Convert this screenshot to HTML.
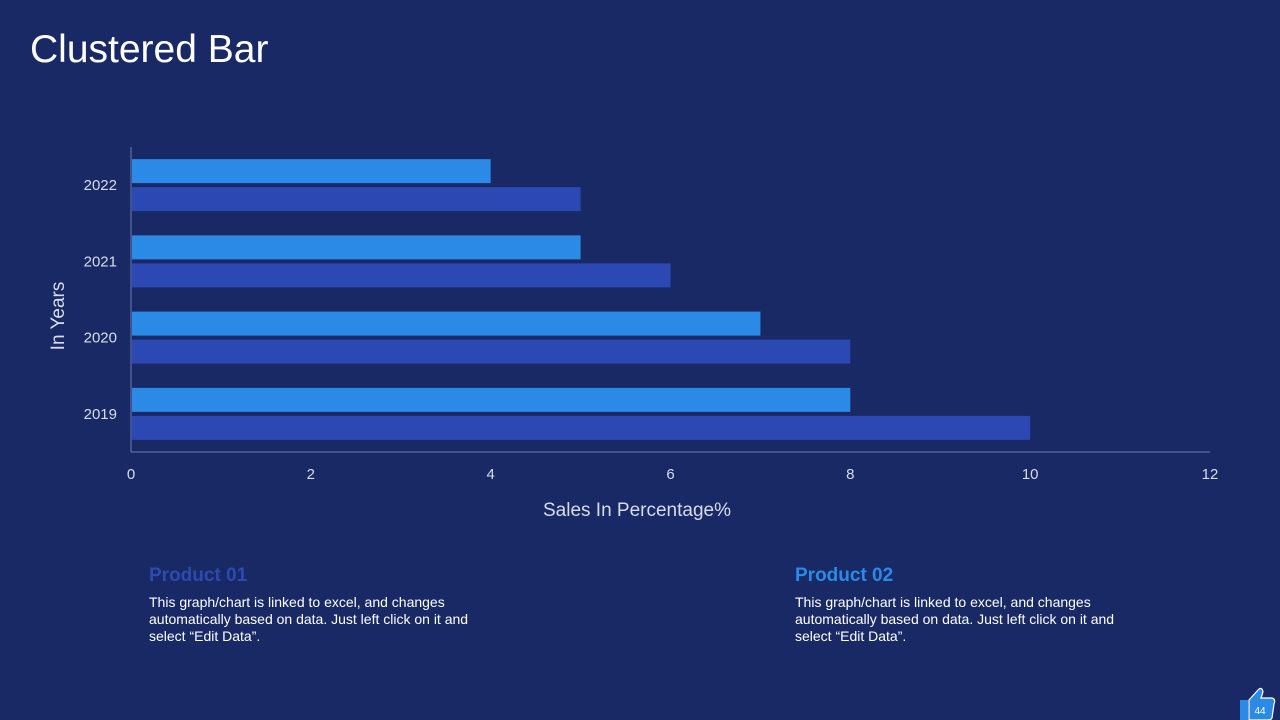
<!DOCTYPE html>
<html><head><meta charset="utf-8"><style>
body{margin:0;width:1280px;height:720px;background:#182966;font-family:"Liberation Sans",sans-serif;overflow:hidden;position:relative;color:#fff}
.title{position:absolute;left:30px;top:28px;font-size:39px;color:#fff}
.ph{position:absolute;font-size:19px;font-weight:bold}
.pt{position:absolute;font-size:14px;line-height:17px;color:#fff;width:350px}
</style></head><body>
<div class="title">Clustered Bar</div>
<svg id="chart" width="1280" height="720" style="position:absolute;left:0;top:0"></svg>
<div class="ph" style="left:149px;top:565px;color:#2d4ab0">Product 01</div>
<div class="pt" style="left:149px;top:594px">This graph/chart is linked to excel, and changes automatically based on data. Just left click on it and select “Edit Data”.</div>
<div class="ph" style="left:795px;top:565px;color:#2b8ae6">Product 02</div>
<div class="pt" style="left:795px;top:594px">This graph/chart is linked to excel, and changes automatically based on data. Just left click on it and select “Edit Data”.</div>
<svg width="40" height="34" style="position:absolute;left:1238px;top:686px">
<path d="M2 14 L10 14 L10 34 L2 34 Z" fill="#2b8ae6"/>
<path d="M11 14 L20 4 Q24 0 25 6 L23 12 L34 12 Q38 13 36 18 L34 32 Q33 34 30 34 L11 34 Z" fill="#2b8ae6" stroke="#fff" stroke-width="1.2"/>
<text x="22" y="28" font-size="10" fill="#fff" text-anchor="middle" font-family="Liberation Sans">44</text>
</svg>
<script>
const categories=["2019","2020","2021","2022"];
const product01=[8,7,5,4];
const product02=[10,8,6,5];
const xTicks=[0,2,4,6,8,10,12];
(function(){
const svg=document.getElementById('chart');
const NS='http://www.w3.org/2000/svg';
const x0=131,x1=1210,xMax=12,pTop=147,pBottom=452;
const X=v=>x0+(x1-x0)*v/xMax;
const band=(pBottom-pTop)/categories.length;
function el(t,a){const e=document.createElementNS(NS,t);for(const k in a)e.setAttribute(k,a[k]);svg.appendChild(e);return e;}
let ax=el('line',{x1:x0,y1:pBottom,x2:x1,y2:pBottom,stroke:'#6b7bb0','stroke-width':1});


let ay=el('line',{x1:x0,y1:pTop,x2:x0,y2:pBottom,stroke:'#6b7bb0','stroke-width':1});


xTicks.forEach(t=>{const e=el('text',{x:X(t),y:479,fill:'#d8dcea','font-size':15,'text-anchor':'middle','font-family':'Liberation Sans'});e.textContent=t;

});
categories.forEach((c,i)=>{
 const cy=pBottom-band*(i+0.5);
 const l=el('text',{x:117,y:cy+5,fill:'#d8dcea','font-size':15,'text-anchor':'end','font-family':'Liberation Sans'});l.textContent=c;
 
 
 const b1=el('rect',{x:x0+1,y:cy-26,width:X(product01[i])-x0-1,height:24,fill:'#2b8ae6'});
 
 
 const b2=el('rect',{x:x0+1,y:cy+2,width:X(product02[i])-x0-1,height:24,fill:'#2c48b2'});
 
 
});
const xt=el('text',{x:637,y:516,fill:'#d8dcea','font-size':19,'text-anchor':'middle','font-family':'Liberation Sans'});xt.textContent='Sales In Percentage%';


const yt=el('text',{x:0,y:0,fill:'#d8dcea','font-size':19,'text-anchor':'middle','font-family':'Liberation Sans',transform:'translate(64,316) rotate(-90)'});yt.textContent='In Years';


})();
</script>
</body></html>
